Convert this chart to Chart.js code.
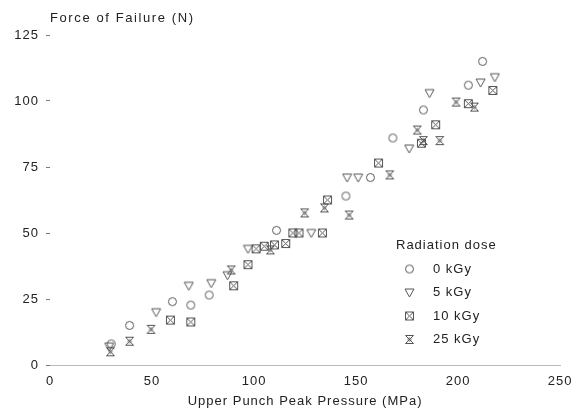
<!DOCTYPE html>
<html>
<head>
<meta charset="utf-8">
<script src="https://cdn.jsdelivr.net/npm/chart.js@4"></script>
<style>
  body { margin: 0; background: #fff; }
  #chart { display: block; }
</style>
</head>
<body>
<canvas id="chart" width="580" height="410"></canvas>
<script>
'use strict';

const seriesNames = ['0 kGy', '5 kGy', '10 kGy', '25 kGy'];
const xTicks = [0, 50, 100, 150, 200, 250];
const yTicks = [0, 25, 50, 75, 100, 125];

const dose0 = [[30, 8], [39, 15], [60, 24], [69, 22.7], [78, 26.5], [111, 51], [145, 64],
    [157, 71], [168, 86], [183, 96.6], [205, 106], [212, 115]];
const dose5 = [[29, 7], [52, 20], [68, 30], [79, 31], [87, 34], [97, 44], [128, 50],
    [145.6, 71], [151, 71], [176, 82], [186, 103], [211, 107], [218, 109]];
const dose10 = [[59, 17], [69, 16.3], [90, 30], [97, 38], [101, 44], [105, 45], [110, 45.5],
    [115.5, 46], [119, 50], [122, 50], [133.5, 50], [136, 62.5], [161, 76.5], [182, 84],
    [189, 91], [205, 99], [217, 104]];
const dose25 = [[29.6, 5], [39, 9], [49.5, 13.5], [88.8, 36], [108, 43.6], [124.8, 57.6],
    [134.5, 59.5], [146.6, 56.8], [166.5, 72], [180, 89], [183, 85], [191, 85],
    [199, 99.6], [208, 97.7]];

const ink = '#555';
const font = '"Liberation Sans", Arial, sans-serif';

// marker glyphs drawn on small canvases
function marker(kind) {
    const c = document.createElement('canvas');
    c.width = 11; c.height = 11;
    const g = c.getContext('2d');
    g.strokeStyle = ink;
    g.lineWidth = 1;
    g.beginPath();
    if (kind === 'circle') {
        g.arc(5.5, 5.5, 4, 0, Math.PI * 2);
    } else if (kind === 'tri') {
        g.moveTo(1, 2); g.lineTo(10, 2); g.lineTo(5.5, 10); g.closePath();
    } else if (kind === 'boxx') {
        g.rect(1.5, 1.5, 8, 8);
        g.moveTo(1.5, 1.5); g.lineTo(9.5, 9.5);
        g.moveTo(9.5, 1.5); g.lineTo(1.5, 9.5);
    } else {
        g.moveTo(1.5, 1.5); g.lineTo(9.5, 1.5); g.lineTo(1.5, 9.5); g.lineTo(9.5, 9.5); g.closePath();
        g.moveTo(4, 5.5); g.arc(5.5, 5.5, 1.5, Math.PI, Math.PI * 3);
    }
    g.stroke();
    return c;
}
const styles = [marker('circle'), marker('tri'), marker('boxx'), marker('hour')];
const allData = [dose0, dose5, dose10, dose25];

// the scanned original uses widely spaced lettering
const spacing = {
    id: 'spacing',
    beforeDraw(chart) { chart.ctx.letterSpacing = '1px'; }
};

const yTitle = {
    id: 'yTitle',
    afterDraw(chart) {
        const c = chart.ctx;
        c.save();
        c.letterSpacing = '1.6px';
        c.fillStyle = '#222';
        c.font = '13px ' + font;
        c.textBaseline = 'middle';
        c.fillText('Force of Failure (N)', chart.chartArea.left, 18);
        // legend
        c.letterSpacing = '1px';
        const lx = 396, ly = 245;
        c.fillText('Radiation dose', lx, ly);
        seriesNames.forEach((name, i) => {
            const y = ly + 24 + i * 23.5;
            c.drawImage(styles[i], lx + 8, y - 5.5);
            c.fillText(name, lx + 37, y);
        });
        c.restore();
    }
};

new Chart(document.getElementById('chart'), {
    type: 'scatter',
    data: {
        datasets: seriesNames.map((name, i) => ({
            label: name,
            data: allData[i].map(p => ({ x: p[0], y: p[1] })),
            pointStyle: styles[i],
            pointRadius: 5
        }))
    },
    options: {
        responsive: false,
        animation: false,
        layout: { padding: { top: 35, right: 15, left: 0, bottom: 0 } },
        plugins: { legend: { display: false }, tooltip: { enabled: false } },
        scales: {
            x: {
                type: 'linear', min: 0, max: 250,
                afterBuildTicks: s => { s.ticks = xTicks.map(v => ({ value: v })); },
                afterFit: s => { s.height = 45; },
                grid: { drawOnChartArea: false, drawTicks: false },
                border: { color: '#bbb', dash: [2, 4] },
                ticks: { color: '#222', font: { family: font, size: 13 }, padding: 9 },
                title: { display: true, text: 'Upper Punch Peak Pressure (MPa)', color: '#222',
                    font: { family: font, size: 13 }, padding: { top: 0, bottom: 1 } }
            },
            y: {
                type: 'linear', min: 0, max: 125,
                afterBuildTicks: s => { s.ticks = yTicks.map(v => ({ value: v })); },
                afterFit: s => { s.width = 50; },
                grid: { drawOnChartArea: false, drawTicks: true, tickLength: 4, color: '#777' },
                border: { display: false },
                ticks: { color: '#222', font: { family: font, size: 13 }, padding: 7 }
            }
        }
    },
    plugins: [spacing, yTitle]
});
</script>
</body>
</html>
